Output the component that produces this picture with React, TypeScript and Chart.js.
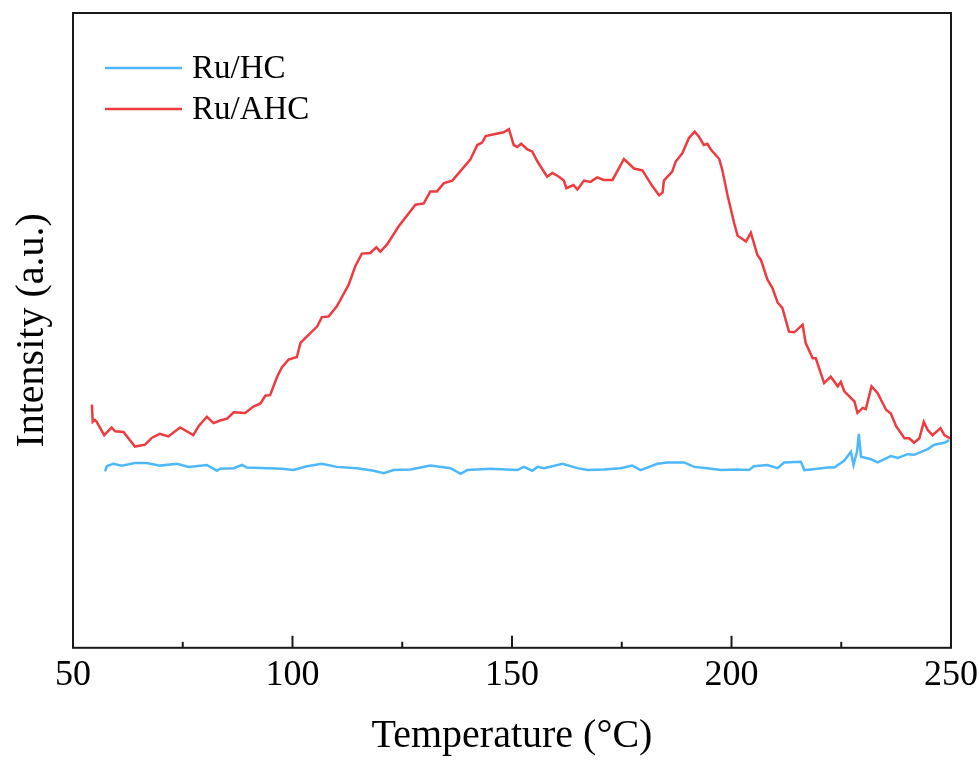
import React, { useEffect, useRef } from "react";
import { Chart, registerables } from "chart.js";

Chart.register(...registerables);

// Ru/AHC (red) — temperature (°C) and intensity (a.u.)
const ahcTemp = [54.3, 54.5, 55.0, 55.4, 57.1, 58.8, 59.6, 61.5, 64.1, 66.4, 68.0, 69.8, 71.7, 74.4, 77.4, 78.6, 80.5, 82.0, 83.5, 85.1, 86.6, 89.2, 91.1, 92.7, 93.8, 94.9, 96.5, 97.6, 99.1, 101.0, 101.8, 102.5, 105.6, 106.7, 108.2, 110.1, 112.8, 114.3, 115.8, 117.7, 119.1, 120.0, 121.5, 124.2, 128.0, 129.9, 131.4, 132.9, 134.5, 136.4, 140.5, 142.1, 143.2, 144.0, 145.9, 148.1, 149.3, 150.4, 151.2, 152.1, 153.5, 154.6, 155.8, 158.0, 159.2, 160.7, 161.8, 162.4, 164.0, 164.9, 166.4, 167.9, 169.4, 170.9, 172.9, 175.5, 177.8, 179.7, 182.0, 183.5, 184.3, 184.6, 186.5, 187.3, 188.8, 190.3, 191.6, 192.6, 193.7, 194.5, 195.3, 197.2, 197.9, 199.1, 200.6, 201.4, 203.3, 204.4, 205.9, 206.7, 208.2, 209.3, 210.5, 211.6, 213.1, 214.3, 216.2, 216.9, 218.5, 219.2, 221.1, 222.6, 224.2, 224.9, 225.7, 228.0, 228.7, 229.9, 230.6, 231.9, 233.3, 235.2, 236.3, 237.5, 239.4, 240.5, 241.6, 242.8, 243.8, 244.7, 245.8, 247.6, 248.5, 249.8];
const ahcIntensity = [38.3, 35.6, 35.9, 35.6, 33.5, 34.7, 34.1, 34.0, 31.7, 32.0, 33.1, 33.7, 33.3, 34.7, 33.5, 34.9, 36.4, 35.4, 35.8, 36.1, 37.1, 37.0, 38.0, 38.5, 39.7, 39.8, 42.7, 44.2, 45.4, 45.8, 48.0, 48.5, 50.6, 52.1, 52.2, 53.8, 57.2, 60.1, 62.1, 62.2, 63.1, 62.4, 63.5, 66.4, 69.8, 70.0, 71.9, 71.9, 73.2, 73.6, 76.9, 79.2, 79.6, 80.6, 80.9, 81.2, 81.7, 79.2, 78.9, 79.4, 78.5, 78.2, 76.6, 74.2, 74.8, 74.2, 73.6, 72.4, 72.9, 72.2, 73.6, 73.4, 74.1, 73.7, 73.7, 77.0, 75.5, 75.2, 72.7, 71.3, 71.7, 73.6, 75.0, 76.6, 77.9, 80.3, 81.3, 80.5, 79.2, 79.4, 78.5, 77.0, 75.3, 71.3, 66.9, 64.9, 64.0, 65.4, 61.9, 61.1, 58.0, 56.7, 54.4, 53.5, 49.8, 49.7, 50.9, 48.0, 45.6, 45.6, 41.7, 42.7, 41.2, 41.9, 40.4, 38.8, 37.0, 37.8, 37.6, 41.2, 40.1, 37.5, 36.9, 34.9, 33.0, 33.0, 32.3, 33.0, 35.6, 34.3, 33.5, 34.6, 33.5, 33.0];

// Ru/HC (blue)
const hcTemp = [57.3, 57.7, 59.2, 61.1, 64.1, 66.8, 69.8, 73.7, 76.3, 80.5, 82.8, 83.5, 86.6, 88.5, 89.6, 97.6, 100.2, 103.3, 106.7, 110.1, 114.7, 118.5, 120.8, 123.0, 126.9, 131.4, 136.0, 138.3, 139.8, 145.1, 151.2, 152.7, 154.6, 155.8, 157.3, 161.5, 164.9, 167.2, 170.9, 174.7, 177.4, 179.3, 183.1, 185.4, 189.2, 191.5, 194.5, 197.6, 201.4, 204.0, 205.1, 208.2, 210.5, 212.0, 215.8, 216.6, 218.1, 221.9, 223.4, 225.7, 227.2, 227.8, 228.6, 229.0, 229.5, 231.8, 233.3, 236.3, 237.9, 240.1, 241.6, 244.7, 246.2, 248.5, 249.6];
const hcIntensity = [27.8, 28.6, 29.0, 28.7, 29.1, 29.1, 28.7, 29.0, 28.5, 28.8, 27.9, 28.2, 28.3, 28.8, 28.4, 28.2, 28.0, 28.6, 29.0, 28.5, 28.3, 27.9, 27.5, 28.0, 28.1, 28.7, 28.3, 27.4, 28.0, 28.2, 28.0, 28.5, 27.9, 28.5, 28.3, 29.0, 28.3, 28.0, 28.1, 28.3, 28.7, 28.0, 29.0, 29.2, 29.2, 28.5, 28.3, 28.0, 28.1, 28.0, 28.6, 28.8, 28.3, 29.2, 29.3, 28.0, 28.1, 28.4, 28.4, 29.5, 30.9, 28.8, 30.9, 33.7, 30.1, 29.7, 29.2, 30.2, 29.9, 30.5, 30.4, 31.3, 32.0, 32.3, 32.7];

const xMajorTicks = [50, 100, 150, 200, 250];
const xMinorTicks = [75, 125, 175, 225];

const seriesLabels = ["Ru/HC", "Ru/AHC"];
const seriesColors = ["#4db8fb", "#ee3b3f"];

const SERIF = '"Liberation Serif", "Times New Roman", Times, serif';

const frameAndLegend = {
  id: "frameAndLegend",
  afterDatasetsDraw(chart: any) {
    const { ctx, chartArea } = chart;
    const { left, right, top, bottom } = chartArea;
    const xs = chart.scales.x;
    ctx.save();
    // frame
    ctx.strokeStyle = "#1a1a1a";
    ctx.lineWidth = 2;
    ctx.strokeRect(left, top, right - left, bottom - top);
    // inward ticks on bottom axis
    ctx.lineWidth = 2;
    xMajorTicks.forEach((v) => {
      const px = xs.getPixelForValue(v);
      ctx.beginPath();
      ctx.moveTo(px, bottom);
      ctx.lineTo(px, bottom - 12);
      ctx.stroke();
    });
    xMinorTicks.forEach((v) => {
      const px = xs.getPixelForValue(v);
      ctx.beginPath();
      ctx.moveTo(px, bottom);
      ctx.lineTo(px, bottom - 6);
      ctx.stroke();
    });
    // legend
    ctx.font = `33px ${SERIF}`;
    ctx.textBaseline = "middle";
    ctx.textAlign = "left";
    ctx.fillStyle = "#000";
    const rows = [55, 96];
    chart.data.datasets.forEach((ds: any, i: number) => {
      const y = top + rows[i];
      ctx.strokeStyle = ds.borderColor;
      ctx.lineWidth = 2.5;
      ctx.beginPath();
      ctx.moveTo(left + 32, y);
      ctx.lineTo(left + 109, y);
      ctx.stroke();
      ctx.fillText(ds.label, left + 119, y + 1);
    });
    ctx.restore();
  },
};

export default function App() {
  const canvasRef = useRef<HTMLCanvasElement | null>(null);

  useEffect(() => {
    const canvas = canvasRef.current;
    if (!canvas) return;
    const hcData = hcTemp.map((t, i) => ({ x: t, y: hcIntensity[i] }));
    const ahcData = ahcTemp.map((t, i) => ({ x: t, y: ahcIntensity[i] }));
    const chart = new Chart(canvas, {
      type: "line",
      data: {
        datasets: [
          {
            label: seriesLabels[0],
            data: hcData,
            borderColor: seriesColors[0],
            backgroundColor: seriesColors[0],
            borderWidth: 2.5,
            pointRadius: 0,
            tension: 0,
            fill: false,
          },
          {
            label: seriesLabels[1],
            data: ahcData,
            borderColor: seriesColors[1],
            backgroundColor: seriesColors[1],
            borderWidth: 2.5,
            pointRadius: 0,
            tension: 0,
            fill: false,
          },
        ],
      },
      options: {
        animation: false,
        responsive: false,
        maintainAspectRatio: false,
        layout: { padding: { left: 8, right: 28, top: 13, bottom: 0 } },
        plugins: {
          legend: { display: false },
          tooltip: { enabled: false },
        },
        scales: {
          x: {
            type: "linear",
            min: 50,
            max: 250,
            afterBuildTicks: (scale: any) => {
              scale.ticks = xMajorTicks.map((v) => ({ value: v }));
            },
            grid: { display: false },
            border: { display: false },
            ticks: {
              padding: -2,
              color: "#000",
              font: { family: SERIF, size: 36 },
              maxRotation: 0,
              autoSkip: false,
            },
            title: {
              display: true,
              text: "Temperature (°C)",
              color: "#000",
              font: { family: SERIF, size: 40 },
              padding: { top: 17, bottom: 0 },
            },
          },
          y: {
            type: "linear",
            min: 0,
            max: 100,
            grid: { display: false },
            border: { display: false },
            ticks: { display: false },
            title: {
              display: true,
              text: "Intensity (a.u.)",
              color: "#000",
              font: { family: SERIF, size: 40 },
              padding: { top: 0, bottom: 9 },
            },
          },
        },
      },
      plugins: [frameAndLegend],
    });
    return () => chart.destroy();
  }, []);

  return (
    <div style={{ position: "fixed", left: 0, top: 0, width: 979, height: 760, background: "#fff" }}>
      <canvas ref={canvasRef} width={979} height={760} style={{ width: 979, height: 760, display: "block" }} />
    </div>
  );
}
